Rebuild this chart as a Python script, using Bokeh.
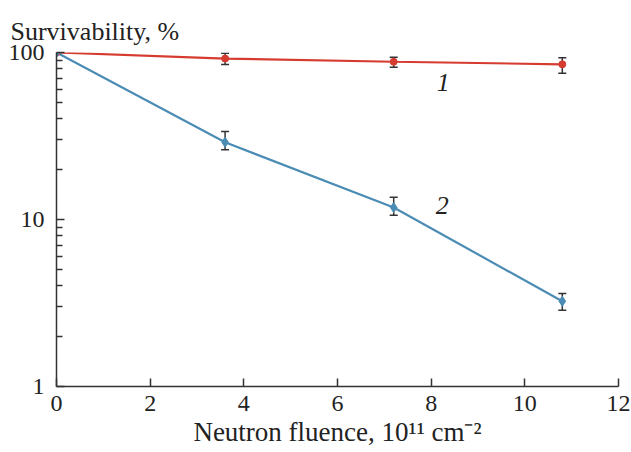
from bokeh.plotting import figure
from bokeh.models import Range1d, FixedTicker, Whisker, ColumnDataSource, Label, TeeHead
from bokeh.embed import file_html
from bokeh.resources import INLINE

# ---- data ----
fluence = [0, 3.6, 7.2, 10.8]
surv1 = [100, 92, 88, 85]
surv1_upper = [100, 99.0, 93.7, 92.9]
surv1_lower = [100, 84.7, 81.6, 75.1]
surv2 = [100, 29.0, 11.8, 3.24]
surv2_upper = [100, 33.6, 13.6, 3.60]
surv2_lower = [100, 26.2, 10.6, 2.86]

x_ticks = [0, 2, 4, 6, 8, 10, 12]
y_ticks = [1, 10, 100]
y_minor_ticks = [2, 3, 4, 5, 6, 7, 8, 9, 20, 30, 40, 50, 60, 70, 80, 90]

FONT = "Liberation Serif"
RED = "#d63b30"
BLUE = "#4a8cb4"
INK = "#222222"

p = figure(width=631, height=452, y_axis_type="log",
           x_range=Range1d(0, 12), y_range=Range1d(1, 100),
           output_backend="svg", toolbar_location=None,
           min_border_left=56, min_border_right=13,
           min_border_top=52, min_border_bottom=66)
p.outline_line_color = None
p.xgrid.visible = False
p.ygrid.visible = False

p.title.text = "Survivability, %"
p.title.text_font = FONT
p.title.text_font_size = "26px"
p.title.text_font_style = "normal"
p.title.text_color = INK
p.title.align = "left"
p.title.offset = -46
p.title.standoff = 14

for ax in (p.xaxis[0], p.yaxis[0]):
    ax.axis_line_color = "#333333"
    ax.axis_line_width = 1.5
    ax.major_tick_line_color = "#333333"
    ax.major_tick_line_width = 1.5
    ax.minor_tick_line_color = "#333333"
    ax.minor_tick_line_width = 1.5
    ax.major_tick_in = 8
    ax.major_tick_out = 0
    ax.minor_tick_in = 6
    ax.minor_tick_out = 0
    ax.major_label_text_font = FONT
    ax.major_label_text_font_size = "24px"
    ax.major_label_text_color = INK

p.xaxis[0].ticker = FixedTicker(ticks=x_ticks)
p.xaxis[0].major_label_standoff = 9
p.xaxis[0].axis_label = "Neutron fluence, 10\u00b9\u00b9 cm\u207b\u00b2"
p.xaxis[0].axis_label_text_font = FONT
p.xaxis[0].axis_label_text_font_size = "27px"
p.xaxis[0].axis_label_text_font_style = "normal"
p.xaxis[0].axis_label_text_color = INK
p.xaxis[0].axis_label_standoff = 3

p.yaxis[0].ticker = FixedTicker(ticks=y_ticks, minor_ticks=y_minor_ticks)
p.yaxis[0].major_label_standoff = 12
p.yaxis[0].major_label_overrides = {1: "1", 10: "10", 100: "100"}

src1 = ColumnDataSource(dict(x=fluence, y=surv1))
src2 = ColumnDataSource(dict(x=fluence, y=surv2))
err1 = ColumnDataSource(dict(x=fluence[1:], up=surv1_upper[1:], lo=surv1_lower[1:]))
err2 = ColumnDataSource(dict(x=fluence[1:], up=surv2_upper[1:], lo=surv2_lower[1:]))

p.line("x", "y", source=src1, line_color=RED, line_width=2.2)
p.line("x", "y", source=src2, line_color=BLUE, line_width=2.2)

for es in (err1, err2):
    w = Whisker(source=es, base="x", upper="up", lower="lo",
                line_color="#333333", line_width=1.5,
                upper_head=TeeHead(size=8, line_color="#333333", line_width=1.5),
                lower_head=TeeHead(size=8, line_color="#333333", line_width=1.5))
    p.add_layout(w)

p.scatter("x", "y", source=src1, marker="circle", size=7, fill_color=RED, line_color=RED)
p.scatter("x", "y", source=src2, marker="diamond", size=10, fill_color=BLUE, line_color=BLUE)

# curve labels
p.add_layout(Label(x=8.12, y=66.1, text="1", text_font=FONT, text_font_size="26px",
                   text_font_style="italic", text_color=INK, text_baseline="alphabetic"))
p.add_layout(Label(x=8.10, y=12.1, text="2", text_font=FONT, text_font_size="26px",
                   text_font_style="italic", text_color=INK, text_baseline="alphabetic"))

open("out.html", "w").write(file_html(p, INLINE))
